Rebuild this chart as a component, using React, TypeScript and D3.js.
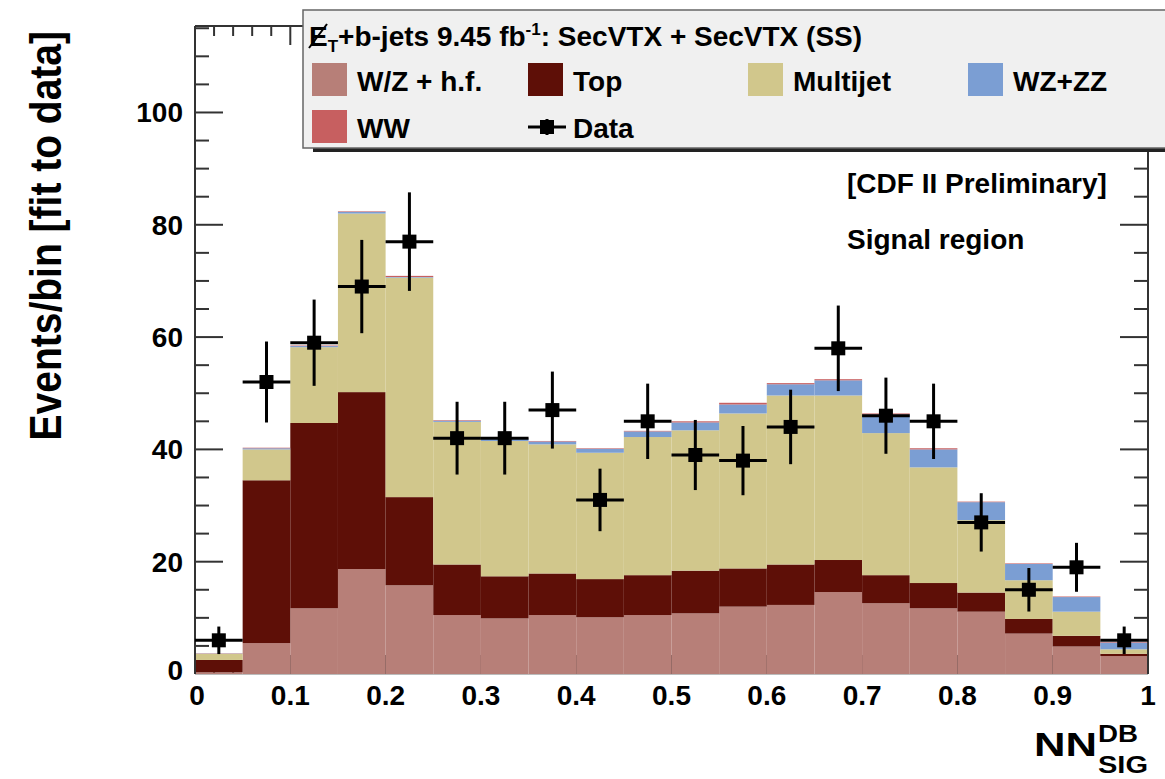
import React from "react";
import * as d3 from "d3";

// NN output bins (lower edges, width 0.05)
const binLow = [0, 0.05, 0.1, 0.15, 0.2, 0.25, 0.3, 0.35, 0.4, 0.45, 0.5, 0.55, 0.6, 0.65, 0.7, 0.75, 0.8, 0.85, 0.9, 0.95];
const binWidth = 0.05;

// Background predictions (events per bin), stacked bottom to top
const wzHf = [0.3, 5.5, 11.7, 18.7, 15.8, 10.5, 9.9, 10.5, 10.1, 10.5, 10.8, 12.0, 12.3, 14.6, 12.6, 11.7, 11.1, 7.2, 4.9, 3.2];
const topQ = [2.2, 29.0, 33.0, 31.5, 15.7, 9.0, 7.5, 7.4, 6.8, 7.1, 7.6, 6.8, 7.2, 5.7, 5.0, 4.5, 3.4, 2.6, 1.9, 0.4];
const multijet = [1.1, 5.5, 13.5, 31.8, 39.1, 25.4, 24.1, 23.0, 22.5, 24.6, 25.0, 27.6, 30.1, 29.3, 25.3, 20.6, 12.9, 6.9, 4.3, 0.8];
const wzzz = [0.05, 0.2, 0.2, 0.3, 0.1, 0.2, 0.4, 0.5, 0.7, 1.0, 1.4, 1.6, 2.0, 2.7, 3.3, 3.2, 3.2, 2.9, 2.6, 1.2];
const ww = [0.05, 0.1, 0.1, 0.1, 0.2, 0.1, 0.1, 0.1, 0.1, 0.1, 0.2, 0.3, 0.2, 0.2, 0.2, 0.2, 0.1, 0.1, 0.1, 0.1];

// Observed counts
const dataCounts = [6, 52, 59, 69, 77, 42, 42, 47, 31, 45, 39, 38, 44, 58, 46, 45, 27, 15, 19, 6];

const yTickValues = [0, 20, 40, 60, 80, 100];
const xTickValues = [0, 0.1, 0.2, 0.3, 0.4, 0.5, 0.6, 0.7, 0.8, 0.9, 1];
const xTickLabels = ["0", "0.1", "0.2", "0.3", "0.4", "0.5", "0.6", "0.7", "0.8", "0.9", "1"];

const processes = [
  { key: "wzHf", label: "W/Z + h.f.", color: "#b77f78", values: wzHf },
  { key: "top", label: "Top", color: "#5e0f07", values: topQ },
  { key: "multijet", label: "Multijet", color: "#d1c78c", values: multijet },
  { key: "wzzz", label: "WZ+ZZ", color: "#7b9ed3", values: wzzz },
  { key: "ww", label: "WW", color: "#c75f60", values: ww },
];

const W = 1165;
const H = 779;
const FONT = "'Liberation Sans', Arial, Helvetica, sans-serif";

const x = d3.scaleLinear().domain([0, 1]).range([195, 1148]);
const y = d3.scaleLinear().domain([0, 115.4]).range([674, 26]);

export default function App() {
  const rows = binLow.map((lo, i) => {
    const r: Record<string, number> = { lo };
    processes.forEach((p) => (r[p.key] = p.values[i]));
    return r;
  });
  const stacked = d3.stack<Record<string, number>>().keys(processes.map((p) => p.key))(rows);

  const [x0, x1] = x.range();
  const [yb, yt] = y.range();
  const yMajorLen = 28;
  const yMinorLen = 14;
  const xMajorLen = 19;
  const xMinorLen = 10;
  const yMinor = d3.range(0, 115.01, 5);
  const xMinor = d3.range(0, 1.0001, 0.02);

  return (
    <svg width={W} height={H} style={{ position: "absolute", left: 0, top: 0, background: "#fff" }} fontFamily={FONT}>
      {/* ticks on all four sides (drawn under the histograms) */}
      <g stroke="#333" strokeWidth={2}>
        {yMinor.map((v) => {
          const major = Math.abs(v % 20) < 1e-6;
          const len = major ? yMajorLen : yMinorLen;
          return (
            <g key={"yt" + v}>
              <line x1={x0} x2={x0 + len} y1={y(v)} y2={y(v)} />
              <line x1={x1} x2={x1 - len} y1={y(v)} y2={y(v)} />
            </g>
          );
        })}
        {xMinor.map((v) => {
          const major = Math.abs(Math.round(v * 10) - v * 10) < 1e-6;
          const len = major ? xMajorLen : xMinorLen;
          return (
            <g key={"xt" + v}>
              <line x1={x(v)} x2={x(v)} y1={yb} y2={yb - len} />
              <line x1={x(v)} x2={x(v)} y1={yt} y2={yt + len} />
            </g>
          );
        })}
      </g>

      {/* stacked backgrounds */}
      {stacked.map((layer, li) => (
        <g key={layer.key} fill={processes[li].color}>
          {layer.map((d, i) => (
            <rect
              key={i}
              x={x(binLow[i])}
              width={x(binLow[i] + binWidth) - x(binLow[i])}
              y={y(d[1])}
              height={Math.max(0, y(d[0]) - y(d[1]))}
            />
          ))}
        </g>
      ))}

      {/* frame */}
      <line x1={x0} x2={x0} y1={yt} y2={yb} stroke="#333" strokeWidth={2} />
      <line x1={x1} x2={x1} y1={yt} y2={yb} stroke="#333" strokeWidth={2} />
      <line x1={x0} x2={x1} y1={yt} y2={yt} stroke="#333" strokeWidth={2} />
      <line x1={x0} x2={x1} y1={yb + 0.5} y2={yb + 0.5} stroke="#bbb" strokeWidth={1} />

      {/* data points with Poisson errors */}
      <g stroke="#000" strokeWidth={3}>
        {dataCounts.map((n, i) => {
          const cx = x(binLow[i] + binWidth / 2);
          const err = Math.sqrt(n);
          return (
            <g key={"d" + i}>
              <line x1={x(binLow[i])} x2={x(binLow[i] + binWidth)} y1={y(n)} y2={y(n)} />
              <line x1={cx} x2={cx} y1={y(n + err)} y2={y(n - err)} />
              <rect x={cx - 7} y={y(n) - 7} width={14} height={14} fill="#000" stroke="none" />
            </g>
          );
        })}
      </g>

      {/* axis labels */}
      <g fontWeight="bold" fontSize={28} fill="#000">
        {yTickValues.map((v) => (
          <text key={"yl" + v} x={183} y={y(v) + 10 - (v === 0 ? 4 : 0)} textAnchor="end">
            {v}
          </text>
        ))}
        {xTickValues.map((v, i) => (
          <text key={"xl" + v} x={x(v) + (i === 0 ? 2 : 0)} y={705} textAnchor="middle">
            {xTickLabels[i]}
          </text>
        ))}
      </g>

      {/* axis titles */}
      <text
        transform={`translate(61, ${yt + 5}) rotate(-90) scale(1, 1.15)`}
        textAnchor="end"
        fontWeight="bold"
        fontSize={39}
      >
        Events/bin [fit to data]
      </text>
      <g fontWeight="bold">
        <text x={1034} y={756} fontSize={34} textLength={63} lengthAdjust="spacingAndGlyphs">NN</text>
        <text x={1098} y={742} fontSize={24} textLength={40} lengthAdjust="spacingAndGlyphs">DB</text>
        <text x={1098} y={773} fontSize={24} textLength={50} lengthAdjust="spacingAndGlyphs">SIG</text>
      </g>

      {/* annotations */}
      <g fontWeight="bold" fontSize={28}>
        <text x={847} y={193}>[CDF II Preliminary]</text>
        <text x={847} y={249}>Signal region</text>
      </g>

      {/* legend */}
      <g>
        <rect x={313} y={18} width={900} height={134} fill="#222" />
        <rect x={303} y={10} width={900} height={138} fill="#f0f0f0" stroke="#666" strokeWidth={1.5} />
        <g fontWeight="bold" fontSize={28}>
          <text x={309} y={46}>
            <tspan>E</tspan>
            <tspan fontSize={17} dy={6}>T</tspan>
            <tspan dy={-6}>+b-jets 9.45 fb</tspan>
            <tspan fontSize={17} dy={-11}>-1</tspan>
            <tspan dy={11}>: SecVTX + SecVTX (SS)</tspan>
          </text>
          <line x1={309} y1={48} x2={327} y2={24} stroke="#000" strokeWidth={2} />
        </g>
        {[
          { p: processes[0], sx: 312, row: 0 },
          { p: processes[1], sx: 528, row: 0 },
          { p: processes[2], sx: 748, row: 0 },
          { p: processes[3], sx: 968, row: 0 },
          { p: processes[4], sx: 312, row: 1 },
        ].map(({ p, sx, row }) => {
          const top = row === 0 ? 63 : 110;
          return (
            <g key={"lg" + p.key}>
              <rect x={sx} y={top} width={35} height={33} fill={p.color} />
              <text x={sx + 45} y={top + 28} fontWeight="bold" fontSize={28}>
                {p.label}
              </text>
            </g>
          );
        })}
        <g stroke="#000" strokeWidth={3}>
          <line x1={528} x2={566} y1={127} y2={127} />
          <line x1={547} x2={547} y1={119} y2={135} />
          <rect x={540} y={120} width={14} height={14} fill="#000" stroke="none" />
        </g>
        <text x={573} y={138} fontWeight="bold" fontSize={28}>
          Data
        </text>
      </g>
    </svg>
  );
}
